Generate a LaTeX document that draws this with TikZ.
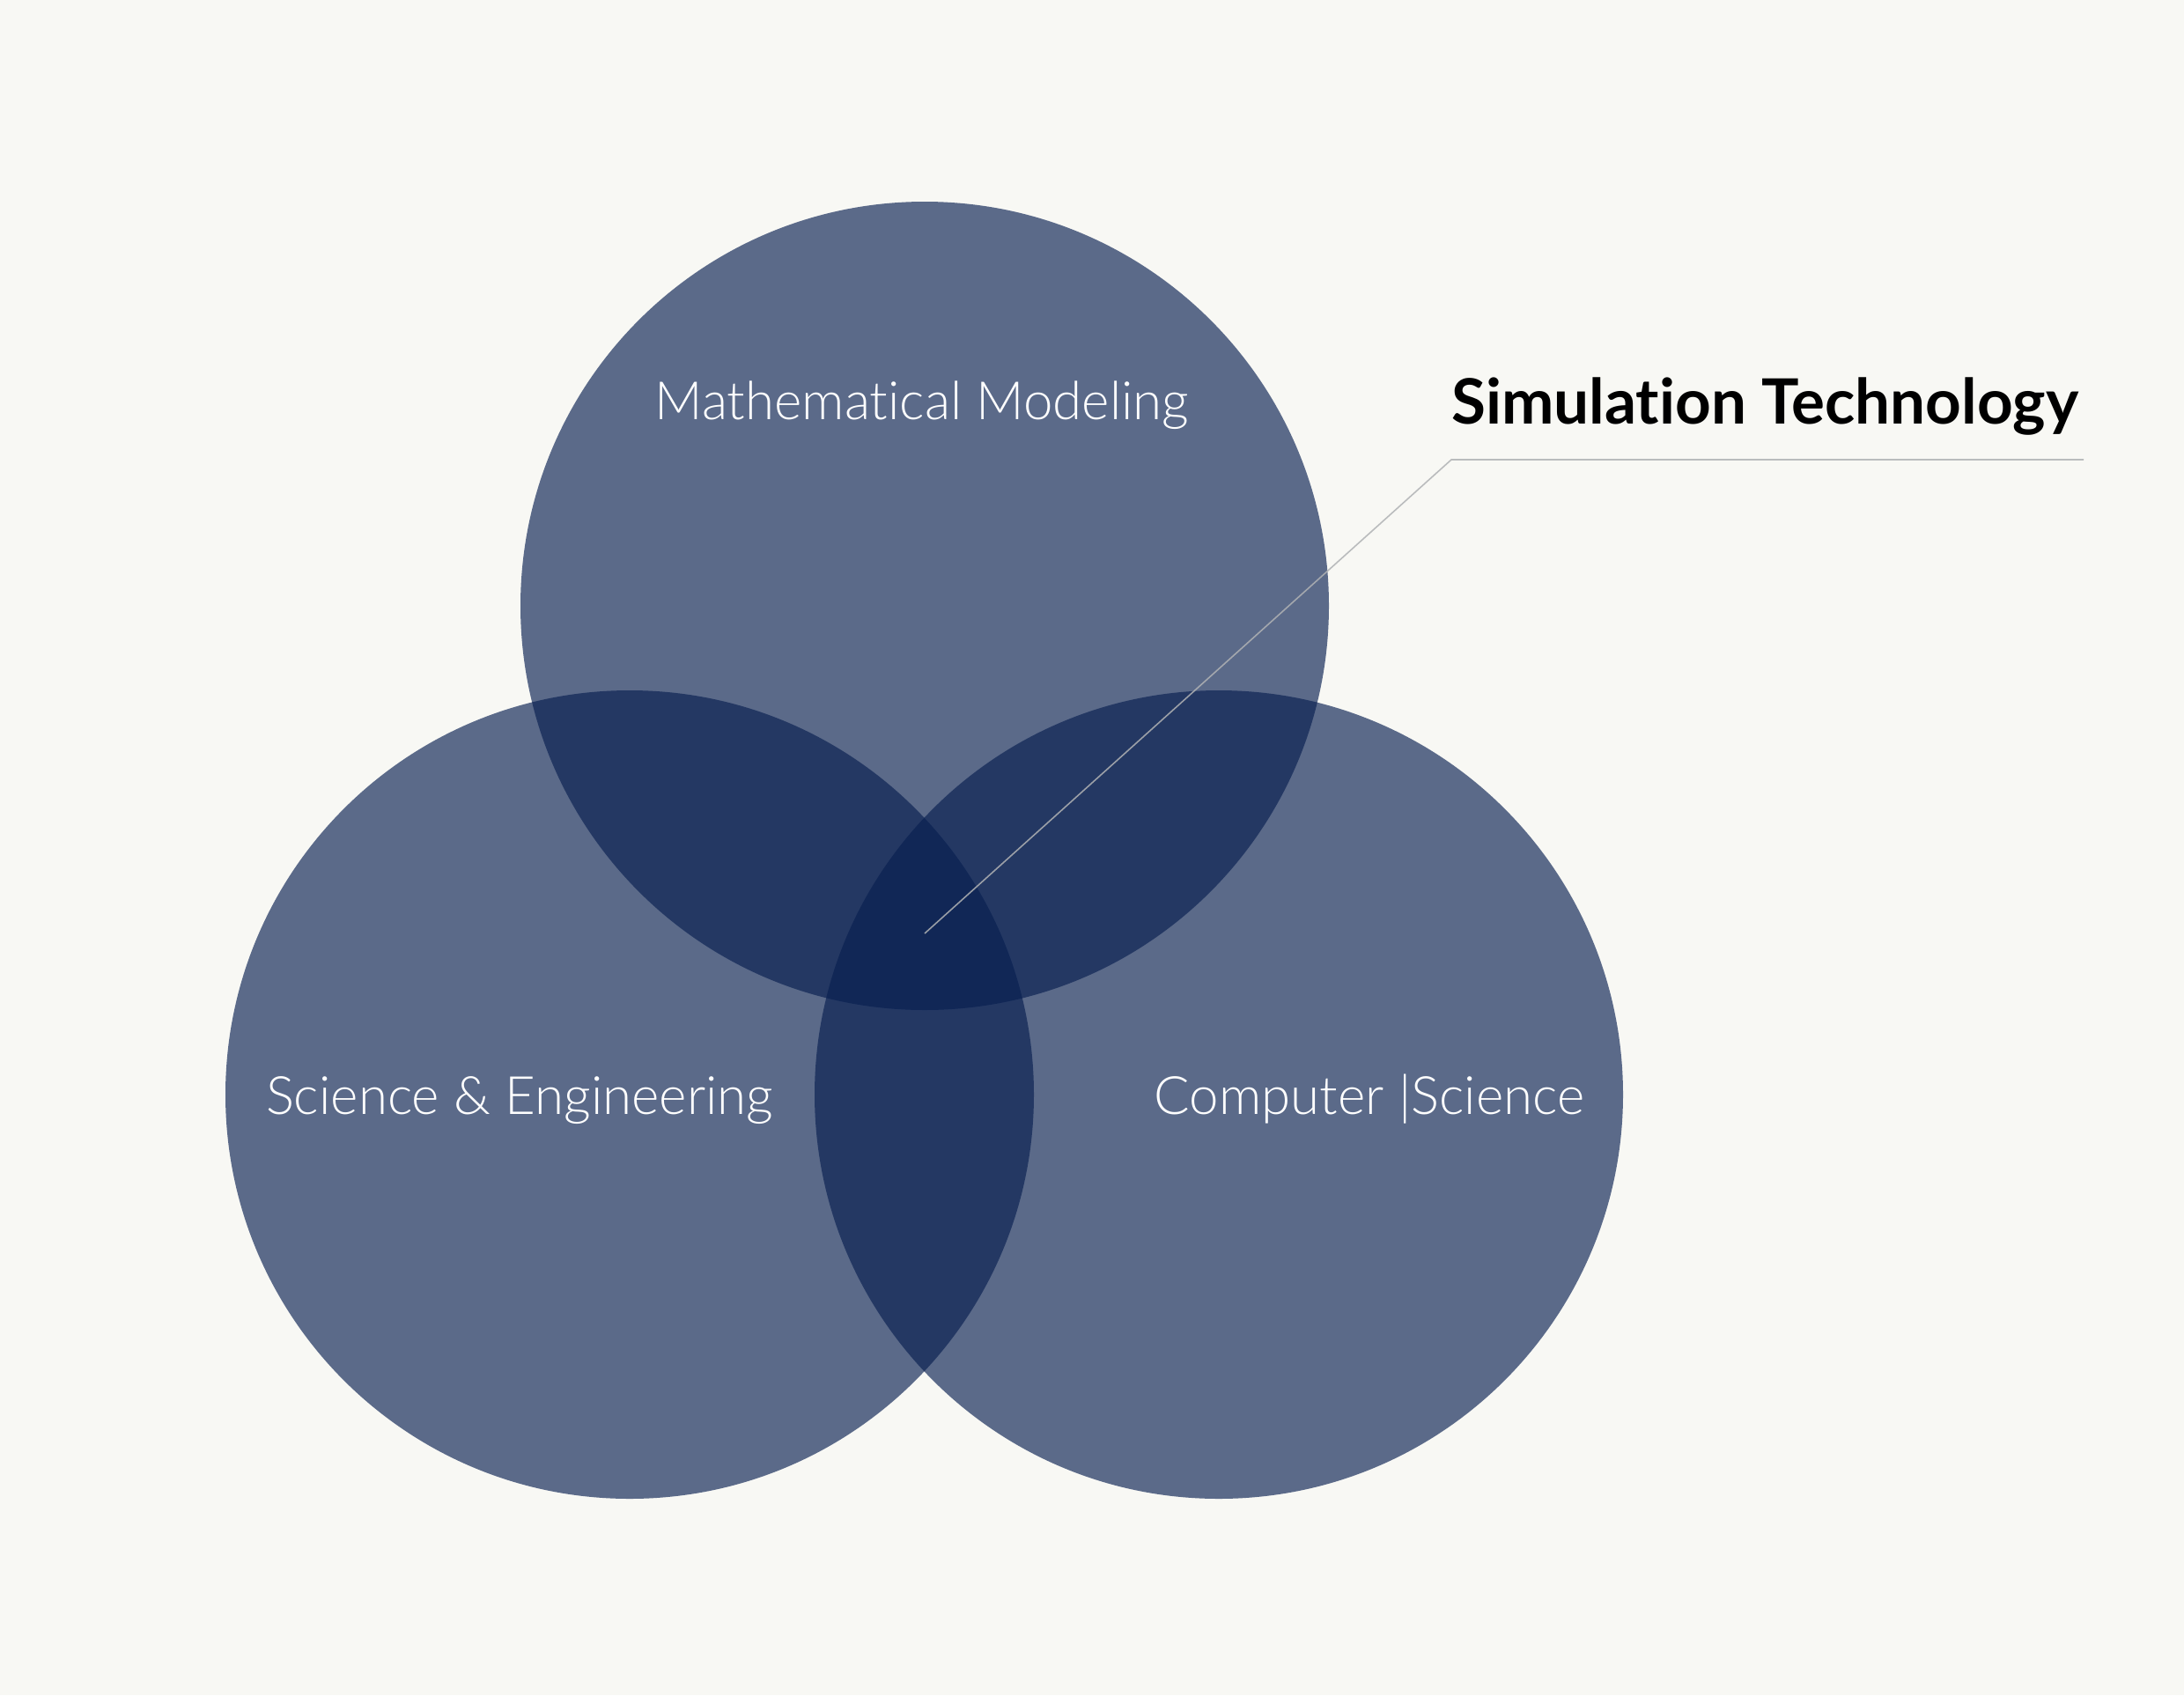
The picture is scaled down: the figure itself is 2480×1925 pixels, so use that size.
\documentclass[tikz,border=0pt]{standalone}
\usepackage{fontspec}
\setmainfont{Lato}[Ligatures=CommonOff]
\newfontfamily\latolight{Lato Light}[Ligatures=CommonOff]
\definecolor{bgc}{RGB}{248,248,244}
\definecolor{navy}{RGB}{7,30,80}
\definecolor{leader}{RGB}{176,178,180}
\begin{document}
\begin{tikzpicture}[x=1pt,y=-1pt,
  venn/.style={fill=navy,fill opacity=0.65,draw=none},
  lbl/.style={text=white,font=\latolight\fontsize{60}{68}\selectfont,anchor=base,inner sep=0pt},
  ttl/.style={text=black,font=\bfseries\fontsize{71}{80}\selectfont,anchor=base west,inner sep=0pt},
  lead/.style={draw=leader,line width=1.6pt,opacity=0.85}]
\fill[bgc] (0,0) rectangle (2480,1925);
\useasboundingbox (0,0) rectangle (2480,1925);
\fill[venn] (1050,688) circle[radius=459pt];
\fill[venn] (715,1243) circle[radius=459pt];
\fill[venn] (1384,1243) circle[radius=459pt];
\node[lbl] (mm) at (1047,476) {Mathematical Modeling};
\node[lbl] (se) at (590,1265) {Science \& Engineering};
\node[lbl] (cs) at (1555,1265) {Computer |Science};
\node[ttl] (st) at (1648,481) {Simulation Technology};
\coordinate (c0) at (1050,1060);
\coordinate (c1) at (1648,522);
\coordinate (c2) at (2366,522);
\draw[lead] (c0) -- (c1) -- (c2);
\end{tikzpicture}
\end{document}
